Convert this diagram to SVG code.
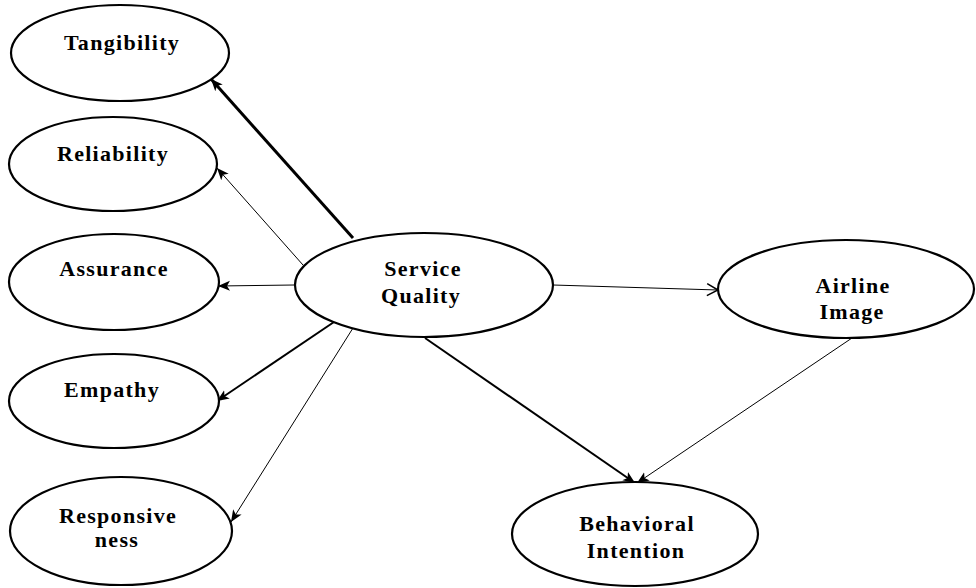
<svg xmlns="http://www.w3.org/2000/svg" width="976" height="588" viewBox="0 0 976 588">
<defs>
<style>
.node ellipse{fill:#fff;stroke:#000;stroke-width:2.2}
.node text{font-family:"Liberation Serif","Times New Roman",serif;font-weight:bold;font-size:22px;letter-spacing:1.3px;text-anchor:middle;fill:#000}
.c{stroke:#000;fill:none}
.thin{stroke-width:1}
.mid{stroke-width:2}
.thick{stroke-width:3}
</style>
<marker id="ah" markerUnits="userSpaceOnUse" markerWidth="14" markerHeight="12" refX="12" refY="6" orient="auto">
<path d="M0,1 L12,6 L0,11 L3,6 Z" fill="#000"/>
</marker>
<marker id="ao" markerUnits="userSpaceOnUse" markerWidth="14" markerHeight="14" refX="12" refY="7" orient="auto">
<path d="M1,1 L12,7 L1,13" fill="none" stroke="#000" stroke-width="1.5"/>
</marker>
</defs>
<rect width="976" height="588" fill="#fff"/>
<g id="connectors">
<line class="c thick" x1="353" y1="238" x2="211" y2="79" marker-end="url(#ah)"/>
<line class="c thin" x1="303" y1="265" x2="217" y2="168" marker-end="url(#ah)"/>
<line class="c thin" x1="294" y1="285" x2="218" y2="286" marker-end="url(#ah)"/>
<line class="c mid" x1="334" y1="322" x2="217" y2="401" marker-end="url(#ah)"/>
<line class="c thin" x1="353" y1="328" x2="231" y2="522" marker-end="url(#ah)"/>
<line class="c thin" x1="553" y1="285" x2="718" y2="290" marker-end="url(#ao)"/>
<line class="c mid" x1="425" y1="338" x2="635" y2="483" marker-end="url(#ah)"/>
<line class="c thin" x1="852" y1="338" x2="637" y2="483" marker-end="url(#ah)"/>
</g>
<g id="tangibility" class="node">
<ellipse cx="120" cy="53" rx="109" ry="48"/>
<text x="122" y="50">Tangibility</text>
</g>
<g id="reliability" class="node">
<ellipse cx="113" cy="164" rx="104" ry="47"/>
<text x="113" y="161">Reliability</text>
</g>
<g id="assurance" class="node">
<ellipse cx="114" cy="282" rx="105" ry="48"/>
<text x="114" y="276">Assurance</text>
</g>
<g id="empathy" class="node">
<ellipse cx="114" cy="401" rx="105" ry="47"/>
<text x="112" y="397">Empathy</text>
</g>
<g id="responsiveness" class="node">
<ellipse cx="121" cy="531" rx="111" ry="54"/>
<text x="118" y="523">Responsive</text>
<text x="117" y="547">ness</text>
</g>
<g id="service-quality" class="node">
<ellipse cx="424" cy="285" rx="129" ry="52"/>
<text x="423" y="276">Service</text>
<text x="421" y="303">Quality</text>
</g>
<g id="airline-image" class="node">
<ellipse cx="846" cy="289" rx="128" ry="49"/>
<text x="853" y="293">Airline</text>
<text x="852" y="319">Image</text>
</g>
<g id="behavioral-intention" class="node">
<ellipse cx="635" cy="534" rx="123" ry="52"/>
<text x="637" y="531">Behavioral</text>
<text x="636" y="558">Intention</text>
</g>
</svg>
